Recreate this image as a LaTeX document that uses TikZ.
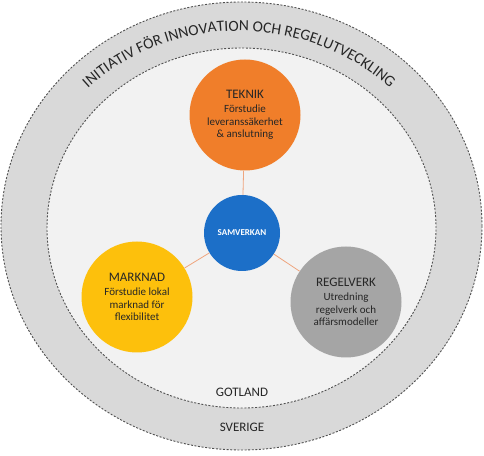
\documentclass[tikz,border=0pt]{standalone}
\usepackage{fontspec}
\setmainfont{Carlito}
\usetikzlibrary{decorations.text}
\definecolor{ringouter}{HTML}{D9D9D9}
\definecolor{ringinner}{HTML}{F2F2F2}
\definecolor{dashcol}{HTML}{505050}
\definecolor{teknikcol}{HTML}{F07E2A}
\definecolor{samvcol}{HTML}{1C6FC8}
\definecolor{marknadcol}{HTML}{FDC00C}
\definecolor{regelcol}{HTML}{A5A5A5}
\definecolor{linkcol}{HTML}{EFA57E}
\definecolor{txtcol}{HTML}{262626}
\begin{document}
\begin{tikzpicture}[x=1pt,y=1pt,
  ringline/.style={draw=dashcol,line width=0.9pt,dash pattern=on 2pt off 1.6pt},
  topic/.style={circle,minimum size=111pt,inner sep=0pt,align=center,text=txtcol,font=\fontsize{11}{12.8}\selectfont},
  linkline/.style={draw=linkcol,line width=0.8pt},
  lbl/.style={text=txtcol,font=\fontsize{13}{15}\selectfont}]
\useasboundingbox (0,0) rectangle (484,455);
\fill[ringouter] (241.5,229) ellipse [x radius=240.5,y radius=224];
\draw[ringline] (241.5,229) ellipse [x radius=240.5,y radius=224];
\fill[ringinner] (241.5,227) ellipse [x radius=194.5,y radius=180];
\draw[ringline] (241.5,227) ellipse [x radius=194.5,y radius=180];
\path[decorate,decoration={text along path,text align=center,
  text={|\fontsize{15.5}{16}\selectfont\color{txtcol}|INITIATIV FÖR INNOVATION OCH REGELUTVECKLING}}]
  (239,228) ++(170:214 and 196) arc[start angle=170,end angle=10,x radius=214,y radius=196];
\node[circle,minimum size=76pt,inner sep=0pt,fill=samvcol,text=white,font=\bfseries\fontsize{9}{11}\selectfont] (samv) at (242,222) {SAMVERKAN};
\node[topic,fill=teknikcol] (teknik) at (245,340) {{\fontsize{13}{16}\selectfont TEKNIK}\\[1pt]Förstudie\\leveranssäkerhet\\\& anslutning};
\node[topic,fill=marknadcol] (marknad) at (137,158) {{\fontsize{13}{16}\selectfont MARKNAD}\\[1pt]Förstudie lokal\\marknad för\\flexibilitet};
\node[topic,fill=regelcol] (regel) at (346,153) {{\fontsize{13}{16}\selectfont REGELVERK}\\[1pt]Utredning\\regelverk och\\affärsmodeller};
\path[linkline] (samv) -- (teknik) (samv) -- (marknad) (samv) -- (regel);
\node[lbl] (gotland) at (242,63) {GOTLAND};
\node[lbl] (sverige) at (242,28) {SVERIGE};
\end{tikzpicture}
\end{document}
